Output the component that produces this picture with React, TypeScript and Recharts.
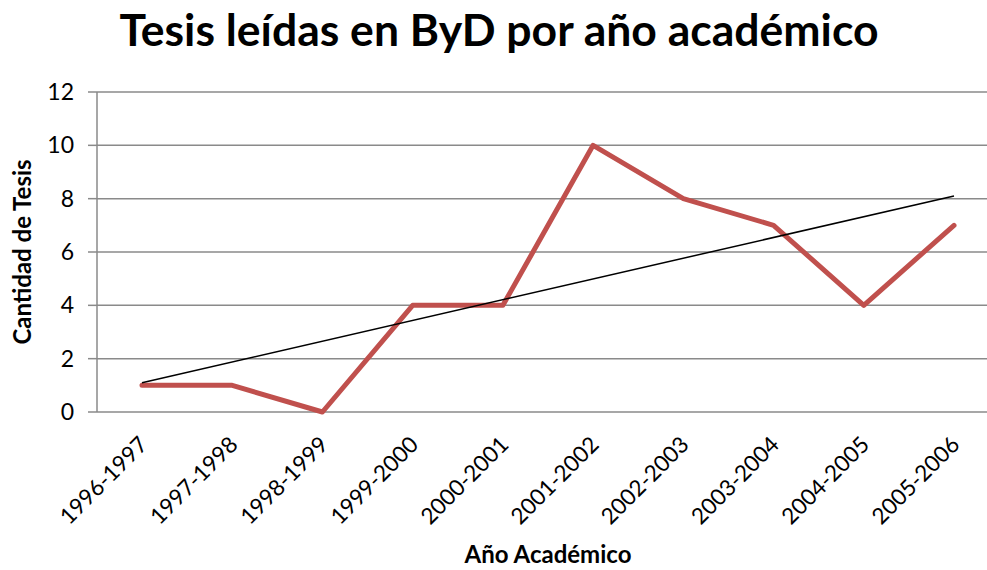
import React from "react";
import { CartesianGrid, Line, LineChart, XAxis, YAxis } from "recharts";

const categories = [
  "1996-1997", "1997-1998", "1998-1999", "1999-2000", "2000-2001",
  "2001-2002", "2002-2003", "2003-2004", "2004-2005", "2005-2006",
];
const tesis = [1, 1, 0, 4, 4, 10, 8, 7, 4, 7];
// linear trend line, end points
const tendencia: (number | null)[] = [1.1, null, null, null, null, null, null, null, null, 8.1];
const yTicks = [0, 2, 4, 6, 8, 10, 12];

const data = categories.map((year, i) => ({
  year,
  tesis: tesis[i],
  tendencia: tendencia[i],
}));

const FONT = "Lato, 'Open Sans', sans-serif";
const GRID = "#8a8a8a";

function XTick(props: any) {
  const { x, y, payload } = props;
  const ax = x + 7;
  const ay = y + 26;
  return (
    <text
      x={ax} y={ay} transform={`rotate(-45, ${ax}, ${ay})`}
      textAnchor="end" fontSize={22.5} fill="#000" fontFamily={FONT}
    >
      {payload.value}
    </text>
  );
}

export default function App() {
  return (
    <div
      style={{
        position: "absolute", left: 0, top: 0, width: 987, height: 570,
        overflow: "hidden", background: "#fff", fontFamily: FONT,
      }}
    >
      <div
        style={{
          position: "absolute", left: 0, top: 7, width: 998, textAlign: "center",
          fontSize: 44.5, lineHeight: "44px", fontWeight: 700, color: "#000",
        }}
      >
        Tesis leídas en ByD por año académico
      </div>
      <div
        style={{
          position: "absolute", left: 22, top: 252, width: 0, height: 0,
        }}
      >
        <div
          style={{
            position: "absolute", left: -120, top: -15, width: 240, textAlign: "center",
            fontSize: 24, lineHeight: "30px", fontWeight: 700, transform: "rotate(-90deg)",
          }}
        >
          Cantidad de Tesis
        </div>
      </div>
      <div
        style={{
          position: "absolute", left: 348, top: 541, width: 400, textAlign: "center",
          fontSize: 24, lineHeight: "25px", fontWeight: 700,
        }}
      >
        Año Académico
      </div>
      <LineChart
        width={999} height={570} data={data}
        margin={{ top: 92, right: 0, bottom: 0, left: 0 }}
        style={{ position: "absolute", left: 0, top: 0 }}
      >
        <CartesianGrid vertical={false} stroke={GRID} strokeWidth={1.5} />
        <XAxis
          dataKey="year" height={158} interval={0} tickLine={false} axisLine={false}
          padding={{ left: 45, right: 45 }} tick={<XTick />}
        />
        <YAxis
          width={97} domain={[0, 12]} ticks={yTicks} interval={0}
          tickSize={9} tickMargin={14}
          tickLine={{ stroke: GRID, strokeWidth: 1.5 }}
          axisLine={{ stroke: GRID, strokeWidth: 1.5 }}
          tick={{ fill: "#000", fontSize: 23, fontFamily: FONT }}
        />
        <Line
          dataKey="tesis" stroke="#C0504D" strokeWidth={5} dot={false}
          strokeLinecap="round" strokeLinejoin="round" isAnimationActive={false}
        />
        <Line
          dataKey="tendencia" stroke="#000" strokeWidth={1.5} dot={false}
          connectNulls isAnimationActive={false}
        />
      </LineChart>
    </div>
  );
}
